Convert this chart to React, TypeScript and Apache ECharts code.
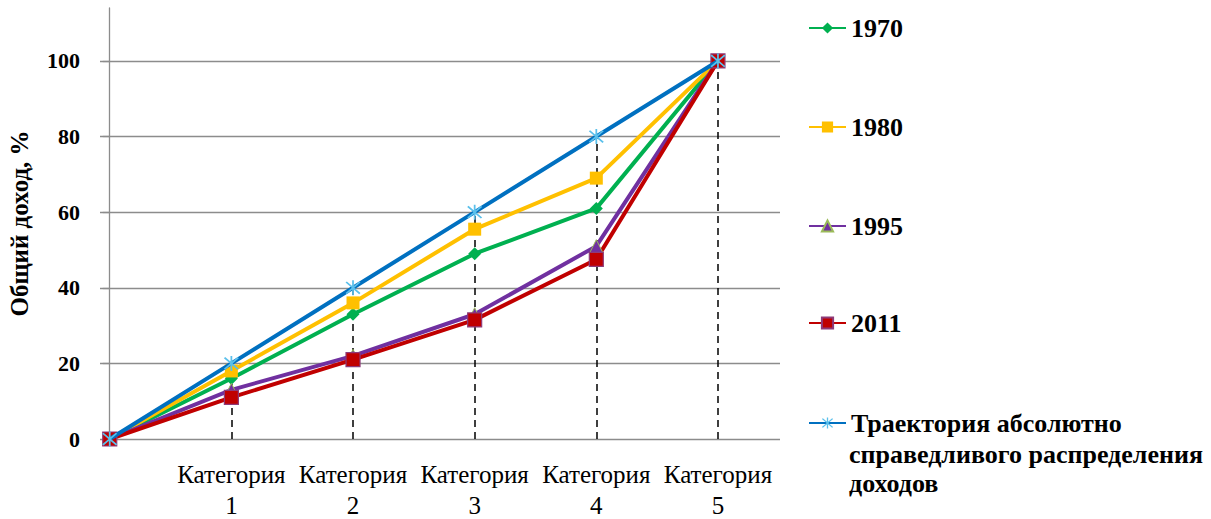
import React, { useEffect, useRef } from "react";
import * as echarts from "echarts";

const categoryX = [0, 1, 2, 3, 4, 5];
const categoryWord = "Категория";
const seriesNames = ["1970", "1980", "1995", "2011", "Траектория абсолютно"];
const legendExtra = "справедливого распределения\nдоходов";
const s1970 = [0, 16, 33, 49, 61, 100];
const s1980 = [0, 18, 36, 55.5, 69, 100];
const s1995 = [0, 13, 22, 33, 51, 100];
const s2011 = [0, 11, 21, 31.5, 47.5, 100];
const sEqual = [0, 20, 40, 60, 80, 100];
const yAxisName = "Общий доход, %";

const starPath =
  "path://M9 0 L11 0 L11 20 L9 20 Z M1.5 3 L3 1.5 L18.5 17 L17 18.5 Z M17 1.5 L18.5 3 L3 18.5 L1.5 17 Z";

export default function App() {
  const ref = useRef<HTMLDivElement>(null);
  useEffect(() => {
    if (!ref.current) return;
    const chart = echarts.init(ref.current, null, { renderer: "svg" });
    const all = [s1970, s1980, s1995, s2011, sEqual];
    const pairs = (arr: number[]) => arr.map((v, i) => [categoryX[i], v]);
    const dropLines = categoryX
      .filter((x) => x > 0)
      .map((x) => {
        const i = categoryX.indexOf(x);
        const top = Math.max(...all.map((a) => a[i]));
        return [{ coord: [x, 0] }, { coord: [x, top] }];
      });
    const font = "Times New Roman";
    const mk = (
      name: string,
      data: number[],
      color: string,
      symbol: string,
      symbolSize: number,
      extra: any = {}
    ) => ({
      name,
      type: "line",
      data: pairs(data),
      symbol,
      symbolSize,
      lineStyle: { color, width: 4 },
      itemStyle: { color, ...(extra.itemStyle || {}) },
      z: extra.z || 2,
      ...(extra.markLine ? { markLine: extra.markLine } : {}),
    });
    const legendTops = [13, 112, 211, 308, 408];
    const legends = seriesNames.map((n, i) => ({
      data: [n],
      orient: "vertical",
      left: 808,
      top: legendTops[i],
      padding: 0,
      itemWidth: 37,
      itemHeight: 14,
      selectedMode: false,
      textStyle: {
        fontFamily: font,
        fontWeight: "bold",
        fontSize: 26,
        lineHeight: 30,
        color: "#000",
      },
    }));
    chart.setOption({
      animation: false,
      backgroundColor: "#fff",
      textStyle: { fontFamily: font },
      grid: { left: 100, right: 431, top: 8, bottom: 80, outerBoundsMode: "none", containLabel: false },
      legend: legends,
      graphic: [
        {
          type: "text",
          left: 849,
          top: 440,
          style: {
            text: legendExtra,
            fontFamily: font,
            fontWeight: "bold",
            fontSize: 26,
            lineHeight: 29,
            fill: "#000",
          },
        },
      ],
      xAxis: {
        type: "value",
        min: -0.08,
        max: 5.51,
        splitLine: { show: false },
        axisLine: { show: false },
        axisTick: { show: false },
        axisLabel: {
          margin: 20,
          fontFamily: font,
          fontSize: 25,
          lineHeight: 31,
          color: "#000",
          showMinLabel: false,
          showMaxLabel: false,
          formatter: (v: number) =>
            Number.isInteger(v) && v >= 1 && v <= 5 ? `${categoryWord}\n${v}` : "",
        },
      },
      yAxis: {
        type: "value",
        min: 0,
        max: 114,
        interval: 20,
        name: yAxisName,
        nameLocation: "middle",
        nameGap: 68,
        nameTextStyle: {
          fontFamily: font,
          fontWeight: "bold",
          fontSize: 25,
          color: "#000",
        },
        axisLine: { show: true, lineStyle: { color: "#8c8c8c", width: 1.3 } },
        axisTick: { show: true, length: 7, lineStyle: { color: "#8c8c8c", width: 1.3 } },
        splitLine: { show: true, showMaxLine: false, lineStyle: { color: "#8c8c8c", width: 1.3 } },
        axisLabel: {
          margin: 20,
          fontFamily: font,
          fontWeight: "bold",
          fontSize: 22,
          color: "#000",
          showMaxLabel: false,
          formatter: (v: number) => (v <= 100 ? String(v) : ""),
        },
      },
      series: [
        mk(seriesNames[0], s1970, "#00B050", "diamond", 13),
        mk(seriesNames[1], s1980, "#FFC000", "rect", 13),
        mk(seriesNames[2], s1995, "#7030A0", "triangle", 13, {
          itemStyle: { borderColor: "#9BBB59", borderWidth: 1 },
        }),
        mk(seriesNames[3], s2011, "#C00000", "rect", 14, {
          itemStyle: { borderColor: "#8e3a78", borderWidth: 1.2 },
        }),
        mk(seriesNames[4], sEqual, "#0070C0", starPath, 15, {
          itemStyle: { color: "#5BC0EB" },
          z: 3,
          markLine: {
            silent: true,
            symbol: ["none", "none"],
            label: { show: false },
            lineStyle: { color: "#000", type: [7, 5], width: 1.5 },
            z: 1,
            data: dropLines,
          },
        }),
      ],
    });
    return () => chart.dispose();
  }, []);
  return (
    <div
      ref={ref}
      style={{ position: "absolute", left: 0, top: 0, width: 1211, height: 519 }}
    />
  );
}
